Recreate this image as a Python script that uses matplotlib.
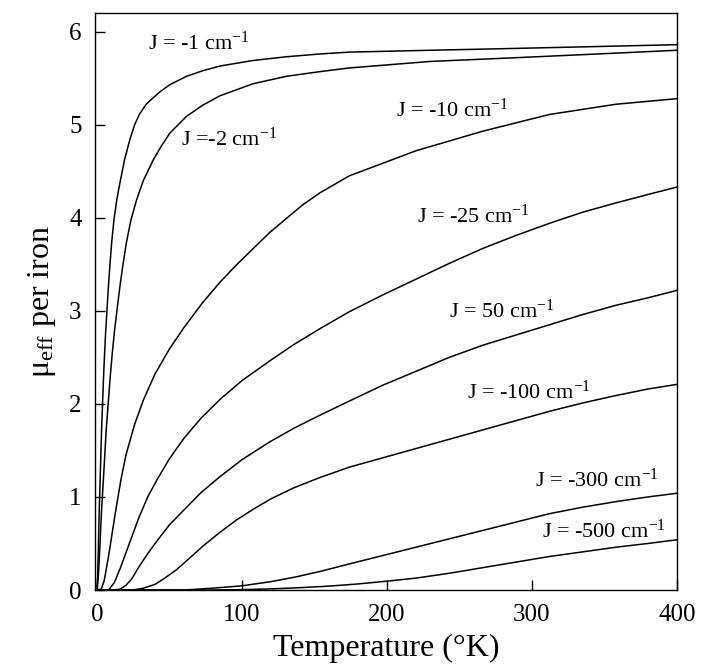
import numpy as np
import matplotlib
matplotlib.use("Agg")
import matplotlib.pyplot as plt

plt.rcParams['font.family'] = ['Liberation Serif', 'DejaVu Serif']
plt.rcParams['mathtext.fontset'] = 'custom'
plt.rcParams['mathtext.rm'] = 'Liberation Serif'
plt.rcParams['mathtext.it'] = 'Liberation Serif:italic'
plt.rcParams['mathtext.bf'] = 'Liberation Serif:bold'

###################### values (T in K, mu_eff per iron)

T_1 = [0, 0.5, 1, 1.5, 2.25, 3.2, 4, 4.55, 5.25, 6.05, 7.2, 8, 9, 10.2, 11.75, 13.65, 15.8, 19, 22.7, 26, 29.6, 34,
       38.8, 44, 50.3, 61.8, 73, 84.7, 107.6, 130.6, 153.6, 174, 230, 289, 345, 400]
mu_1 = [0, 0.15, 0.45, 0.8, 1.2, 1.72, 2.05, 2.28, 2.53, 2.78, 3.08, 3.28, 3.5, 3.74, 3.98, 4.19, 4.37, 4.62, 4.84, 5.00, 5.12, 5.22,
        5.29, 5.36, 5.43, 5.52, 5.58, 5.63, 5.69, 5.73, 5.76, 5.78, 5.80, 5.82, 5.84, 5.86]

T_2 = [0, 1, 2, 3, 4.5, 6.4, 8, 9.1, 10.5, 12.1, 14.4, 16, 18, 20.4, 23.5, 27.3, 32, 38.8, 44, 50.3, 61.8, 73,
       84.7, 107.6, 130.6, 153.6, 174, 230, 289, 345, 400]
mu_2 = [0, 0.15, 0.45, 0.8, 1.2, 1.72, 2.05, 2.28, 2.53, 2.78, 3.08, 3.28, 3.5, 3.74, 3.98, 4.19, 4.40, 4.62, 4.76, 4.91, 5.09, 5.21,
        5.31, 5.44, 5.52, 5.57, 5.61, 5.68, 5.72, 5.76, 5.80]

T_10 = [0, 3, 5, 8, 12.6, 16.5, 20, 26, 32, 40, 50, 60, 73, 85, 96, 119, 142, 154, 174, 220, 266, 312, 358, 400]
mu_10 = [0, 0.01, 0.1, 0.36, 0.82, 1.18, 1.45, 1.78, 2.04, 2.32, 2.59, 2.82, 3.09, 3.31, 3.49, 3.84, 4.14, 4.27, 4.45, 4.72, 4.93, 5.11, 5.22, 5.28]

T_25 = [0, 8, 12, 16, 20, 24, 29, 35, 42, 50, 60, 72, 85, 100, 119, 136, 154, 174, 197, 220, 243, 266, 289, 312, 335, 358, 380, 400]
mu_25 = [0, 0.0, 0.08, 0.23, 0.40, 0.57, 0.78, 1.0, 1.2, 1.41, 1.63, 1.85, 2.05, 2.25, 2.46, 2.64, 2.81, 2.99, 3.17, 3.34, 3.51, 3.67,
         3.81, 3.94, 4.06, 4.16, 4.25, 4.33]

T_50 = [0, 12, 16, 20, 24, 29, 35, 42, 50, 60, 72, 85, 100, 119, 136, 154, 174, 197, 220, 243, 266, 289, 312, 335, 358, 380, 400]
mu_50 = [0, 0.0, 0.01, 0.05, 0.12, 0.25, 0.39, 0.54, 0.70, 0.86, 1.05, 1.22, 1.40, 1.59, 1.74, 1.88, 2.03, 2.20, 2.35, 2.50, 2.63,
         2.74, 2.85, 2.96, 3.06, 3.14, 3.22]

T_100 = [0, 25, 32, 40, 47, 55, 63, 73, 84, 96, 108, 120, 136, 154, 174, 197, 220, 243, 266, 289, 312, 335, 358, 380, 400]
mu_100 = [0, 0.0, 0.02, 0.06, 0.13, 0.22, 0.33, 0.47, 0.61, 0.75, 0.87, 0.98, 1.10, 1.21, 1.32, 1.42, 1.52, 1.62, 1.72, 1.82,
          1.92, 2.01, 2.09, 2.16, 2.21]

T_300 = [0, 60, 80, 100, 120, 137, 154, 174, 197, 220, 243, 266, 289, 312, 335, 358, 380, 400]
mu_300 = [0, 0.0, 0.02, 0.045, 0.09, 0.14, 0.20, 0.28, 0.37, 0.46, 0.55, 0.64, 0.73, 0.82, 0.89, 0.95, 1.00, 1.04]

T_500 = [0, 80, 100, 120, 140, 160, 180, 200, 220, 243, 266, 289, 312, 335, 358, 380, 400]
mu_500 = [0, 0.0, 0.004, 0.012, 0.025, 0.042, 0.065, 0.095, 0.128, 0.18, 0.24, 0.30, 0.36, 0.41, 0.46, 0.50, 0.54]

labels = ['J = -1 cm$^{-1}$', 'J =-2 cm$^{-1}$', 'J = -10 cm$^{-1}$', 'J = -25 cm$^{-1}$',
          'J = 50 cm$^{-1}$', 'J = -100 cm$^{-1}$', 'J = -300 cm$^{-1}$', 'J = -500 cm$^{-1}$']
label_T = [35, 58, 206, 221, 243, 255, 302, 307]
label_mu = [5.80, 4.77, 5.08, 3.95, 2.92, 2.05, 1.11, 0.556]

xticks = [0, 100, 200, 300, 400]
yticks = [0, 1, 2, 3, 4, 5, 6]

####################

curves = [(T_1, mu_1), (T_2, mu_2), (T_10, mu_10), (T_25, mu_25),
          (T_50, mu_50), (T_100, mu_100), (T_300, mu_300), (T_500, mu_500)]

fig = plt.figure(figsize=(7.01, 6.72), dpi=100)
ax = fig.add_axes([0.1362, 0.122, 0.8295, 0.8586])

for T, mu in curves:
	ax.plot(T, mu, color='black', lw=1.1, solid_joinstyle='round')

for lab, x, y in zip(labels, label_T, label_mu):
	ax.text(x, y, lab, fontsize=16, ha='left', va='baseline')

ax.set_xlim(-1, 400)
ax.set_ylim(0, 6.2)
ax.set_xticks(xticks)
ax.set_yticks(yticks)
ax.tick_params(direction='in', length=7, width=1.0, labelsize=18, pad=10,
               top=False, right=False)
for s in ax.spines.values():
	s.set_linewidth(1.0)

ax.set_xlabel('Temperature (°K)', fontsize=23, labelpad=6)
ax.set_ylabel(r'μ$_{\mathrm{eff}}$ per iron', fontsize=23, labelpad=8)

plt.savefig('out.png', dpi=100)
